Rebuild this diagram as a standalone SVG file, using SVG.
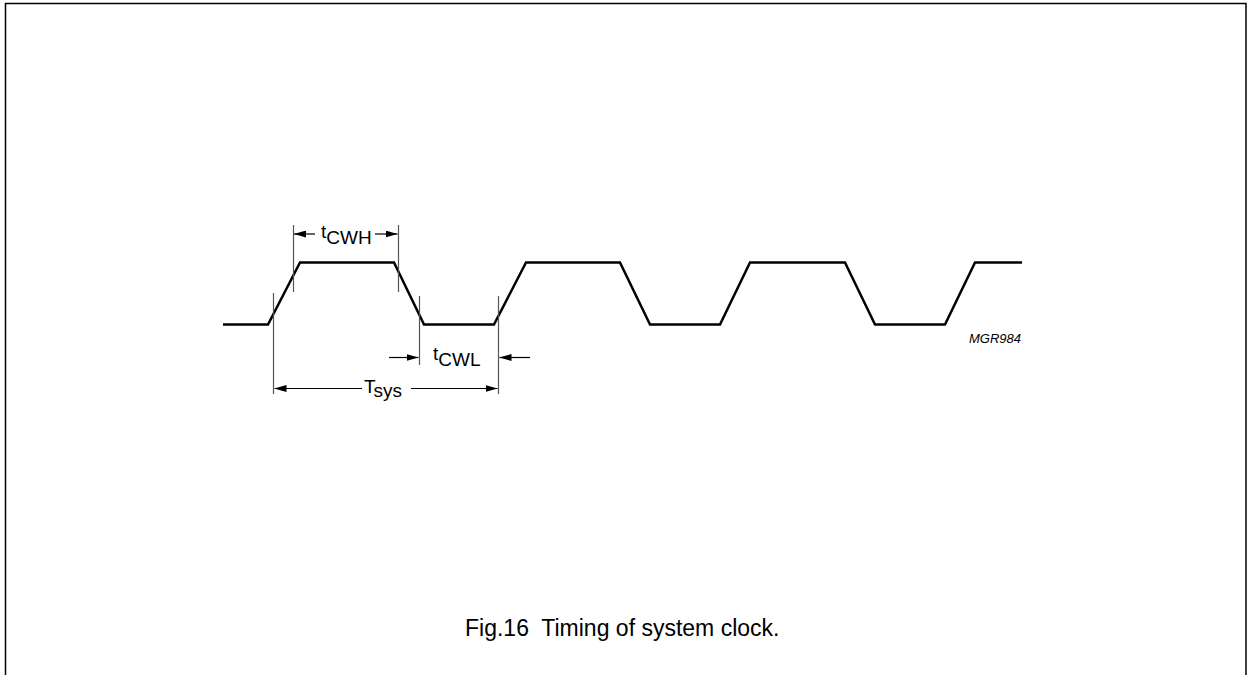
<svg xmlns="http://www.w3.org/2000/svg" width="1247" height="675" viewBox="0 0 1247 675">
<style>
.frame{fill:none;stroke:#000;stroke-width:1.5}
.wave{fill:none;stroke:#000;stroke-width:2.5;stroke-linejoin:miter}
.tick{fill:none;stroke:#555;stroke-width:1.2}
.dim{fill:none;stroke:#000;stroke-width:1.2}
.lbl{font-family:"Liberation Sans",Arial,sans-serif;font-size:19px;fill:#000}
.code{font-family:"Liberation Sans",Arial,sans-serif;font-size:13px;font-style:italic;fill:#000}
.cap{font-family:"Liberation Sans",Arial,sans-serif;font-size:23px;fill:#000}
</style>
<defs>
<marker id="ah" viewBox="0 0 12 7" refX="12" refY="3.5" markerWidth="12" markerHeight="7" markerUnits="userSpaceOnUse" orient="auto">
<path d="M0,0 L12,3.5 L0,7 Z" fill="#000"/>
</marker>
</defs>
<path class="frame" d="M5.5,675 V3.5 H1246 V675"/>
<g id="clock">
<path class="wave" d="M223,324.5 H268 L300,262.5 H394 L424,324.5 H494 L526,262.5 H620 L650,324.5 H720 L750,262.5 H845 L875,324.5 H945 L975,262.5 H1022"/>
</g>
<g id="ticks">
<line class="tick" x1="273.5" y1="293" x2="273.5" y2="394"/>
<line class="tick" x1="293.5" y1="225" x2="293.5" y2="292"/>
<line class="tick" x1="398.5" y1="225" x2="398.5" y2="292"/>
<line class="tick" x1="419.5" y1="296" x2="419.5" y2="365"/>
<line class="tick" x1="498.5" y1="296" x2="498.5" y2="394"/>
</g>
<g id="connectors">
<line class="dim" x1="315" y1="234" x2="294" y2="234" marker-end="url(#ah)"/>
<line class="dim" x1="375" y1="234" x2="397.5" y2="234" marker-end="url(#ah)"/>
<line class="dim" x1="389" y1="357.5" x2="418.5" y2="357.5" marker-end="url(#ah)"/>
<line class="dim" x1="530" y1="357.5" x2="499.5" y2="357.5" marker-end="url(#ah)"/>
<line class="dim" x1="362" y1="388.5" x2="274.5" y2="388.5" marker-end="url(#ah)"/>
<line class="dim" x1="411" y1="388.5" x2="497.5" y2="388.5" marker-end="url(#ah)"/>
</g>
<g id="labels">
<text class="lbl" x="321" y="238">t<tspan dy="6">CWH</tspan></text>
<text class="lbl" x="433" y="360">t<tspan dy="6">CWL</tspan></text>
<text class="lbl" x="364" y="393">T<tspan dy="4">sys</tspan></text>
<text class="code" x="969" y="343">MGR984</text>
<text class="cap" x="465" y="636" xml:space="preserve">Fig.16  Timing of system clock.</text>
</g>
</svg>
